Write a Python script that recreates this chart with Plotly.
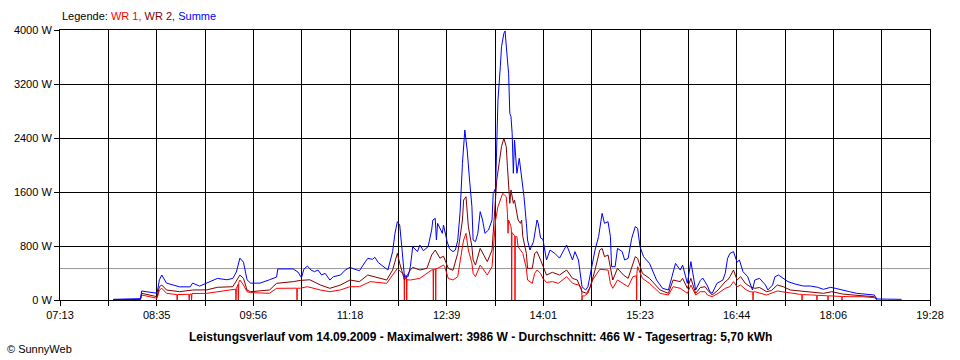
import pandas as pd
import plotly.graph_objects as go

DATE = "2009-09-14"
X_START, X_END = "07:13", "19:28"
X_TICK_LABELS = ["07:13", "08:35", "09:56", "11:18", "12:39", "14:01", "15:23", "16:44", "18:06", "19:28"]
Y_TICKS = [0, 800, 1600, 2400, 3200, 4000]
AVERAGE_W = 466
TITLE = ("Leistungsverlauf vom 14.09.2009 - Maximalwert: 3986 W - "
         "Durchschnitt: 466 W - Tagesertrag: 5,70 kWh")

# --- Summe (blue) ---
SUMME_TIME = [
    "07:58", "08:10", "08:21", "08:22", "08:28", "08:35", "08:37", "08:39", "08:43", "08:48",
    "08:54", "09:03", "09:05", "09:11", "09:17", "09:26", "09:34", "09:39", "09:42", "09:45",
    "09:48", "09:51", "09:54", "10:02", "10:10", "10:16", "10:17", "10:30", "10:34", "10:36",
    "10:37", "10:39", "10:42", "10:45", "10:48", "10:51", "10:54", "10:57", "11:01", "11:04",
    "11:10", "11:14", "11:18", "11:22", "11:26", "11:31", "11:33", "11:37", "11:39", "11:42",
    "11:46", "11:50", "11:54", "11:56", "11:58", "12:00", "12:02", "12:04", "12:07", "12:09",
    "12:11", "12:15", "12:17", "12:20", "12:24", "12:27", "12:28", "12:30", "12:31", "12:32",
    "12:36", "12:37", "12:40", "12:42", "12:45", "12:47", "12:49", "12:51", "12:53", "12:54",
    "12:55", "12:57", "12:58", "12:59", "13:01", "13:02", "13:04", "13:06", "13:08", "13:10",
    "13:12", "13:15", "13:18", "13:19", "13:21", "13:22", "13:23", "13:25", "13:26", "13:28",
    "13:29", "13:31", "13:32", "13:33", "13:34", "13:35", "13:36", "13:37", "13:38", "13:39",
    "13:41", "13:42", "13:43", "13:45", "13:47", "13:48", "13:50", "13:53", "13:56", "13:57",
    "13:59", "14:01", "14:04", "14:07", "14:11", "14:15", "14:21", "14:26", "14:28", "14:31",
    "14:34", "14:37", "14:39", "14:43", "14:45", "14:48", "14:51", "14:53", "14:56", "14:58",
    "14:59", "15:02", "15:04", "15:08", "15:10", "15:13", "15:16", "15:19", "15:21", "15:23",
    "15:26", "15:31", "15:37", "15:42", "15:47", "15:50", "15:53", "15:57", "15:59", "16:03",
    "16:06", "16:10", "16:14", "16:16", "16:20", "16:22", "16:24", "16:26", "16:28", "16:33",
    "16:35", "16:37", "16:39", "16:42", "16:45", "16:47", "16:50", "16:54", "16:58", "17:00",
    "17:04", "17:09", "17:11", "17:15", "17:17", "17:20", "17:24", "17:28", "17:34", "17:41",
    "17:47", "17:53", "17:58", "18:04", "18:08", "18:15", "18:20", "18:26", "18:31", "18:41",
    "18:43", "18:54", "19:04"]
SUMME_W = [
    10, 15, 20, 133, 120, 100, 300, 370, 250, 220,
    195, 195, 250, 206, 250, 320, 300, 320, 415, 620,
    560, 300, 250, 250, 300, 340, 460, 460, 415, 370,
    330, 455, 504, 444, 420, 444, 370, 395, 296, 345,
    370, 444, 484, 455, 434, 568, 617, 602, 632, 553,
    494, 444, 716, 988, 1160, 1111, 740, 345, 345, 494,
    790, 716, 815, 730, 790, 1037, 1185, 1210, 889, 1136,
    988, 1111, 870, 760, 716, 740, 880, 1300, 2025, 2321,
    2519, 2222, 1926, 1778, 1383, 889, 864, 988, 1309, 1185,
    988, 1037, 1185, 1580, 1654, 2420, 2963, 3457, 3753, 3951,
    3986, 3556, 3358, 2765, 2716, 2469, 1877, 2370, 2074, 1877,
    2099, 1975, 1827, 1530, 1136, 889, 740, 864, 1185, 1136,
    920, 900, 593, 740, 691, 620, 815, 593, 716, 593,
    197, 148, 197, 543, 740, 938, 1284, 1136, 1160, 938,
    494, 494, 765, 716, 593, 617, 914, 1086, 1062, 790,
    642, 543, 296, 173, 148, 345, 543, 444, 518, 247,
    568, 148, 290, 326, 210, 123, 99, 173, 247, 296,
    395, 617, 691, 716, 560, 593, 420, 345, 148, 296,
    321, 222, 148, 222, 345, 370, 321, 272, 237, 207,
    207, 188, 158, 188, 173, 138, 123, 99, 89, 74,
    15, 15, 10]

# --- WR 2 (dark red) ---
WR2_TIME = [
    "07:58", "08:21", "08:22", "08:35", "08:37", "08:39", "08:43", "08:54", "09:05", "09:17",
    "09:26", "09:39", "09:45", "09:48", "09:51", "09:54", "10:10", "10:16", "10:30", "10:36",
    "10:44", "10:53", "11:01", "11:10", "11:18", "11:26", "11:33", "11:39", "11:49", "11:54",
    "11:58", "12:00", "12:04", "12:09", "12:11", "12:17", "12:23", "12:27", "12:30", "12:34",
    "12:37", "12:41", "12:45", "12:49", "12:53", "12:54", "12:56", "12:58", "13:01", "13:02",
    "13:04", "13:08", "13:10", "13:14", "13:18", "13:21", "13:22", "13:24", "13:26", "13:28",
    "13:30", "13:31", "13:32", "13:33", "13:34", "13:36", "13:37", "13:39", "13:40", "13:42",
    "13:43", "13:44", "13:47", "13:48", "13:52", "13:54", "13:56", "13:59", "14:01", "14:04",
    "14:09", "14:15", "14:21", "14:26", "14:30", "14:34", "14:38", "14:41", "14:45", "14:49",
    "14:51", "14:53", "14:56", "14:59", "15:00", "15:04", "15:09", "15:13", "15:19", "15:21",
    "15:25", "15:31", "15:40", "15:47", "15:51", "15:57", "15:59", "16:03", "16:06", "16:10",
    "16:14", "16:18", "16:20", "16:24", "16:29", "16:35", "16:37", "16:39", "16:42", "16:45",
    "16:48", "16:52", "16:56", "17:00", "17:04", "17:10", "17:14", "17:19", "17:24", "17:30",
    "17:38", "17:49", "17:58", "18:05", "18:14", "18:23", "18:31", "18:41", "18:43"]
WR2_W = [
    5, 8, 99, 49, 197, 222, 148, 123, 148, 150,
    188, 197, 370, 321, 148, 123, 148, 247, 272, 290,
    300, 222, 173, 222, 296, 272, 370, 345, 296, 444,
    691, 543, 296, 444, 484, 444, 469, 667, 740, 620,
    650, 469, 440, 691, 1185, 1481, 1530, 1086, 790, 593,
    518, 765, 691, 568, 740, 1580, 1778, 2025, 2272, 2395,
    2272, 1975, 1630, 1432, 1630, 1432, 1481, 1284, 1185, 1136,
    1185, 938, 691, 469, 469, 691, 716, 593, 494, 370,
    410, 370, 444, 321, 296, 123, 99, 197, 444, 740,
    765, 642, 667, 345, 296, 469, 370, 321, 642, 617,
    395, 321, 148, 99, 296, 272, 321, 173, 321, 99,
    185, 197, 148, 74, 148, 272, 296, 345, 444, 296,
    345, 247, 197, 173, 185, 123, 140, 222, 197, 148,
    133, 123, 99, 123, 89, 74, 59, 49, 5]

# --- WR 1 (red), including the short drop-outs to 0 W ---
WR1_TIME = [
    "07:58:00", "08:21:00", "08:22:00", "08:35:00", "08:37:00", "08:39:00", "08:43:00", "08:51:40", "08:52:00", "08:52:20",
    "09:01:50", "09:02:10", "09:02:30", "09:03:50", "09:04:10", "09:04:30", "09:17:00", "09:26:00", "09:39:00", "09:41:20",
    "09:41:40", "09:42:00", "09:43:20", "09:43:40", "09:44:00", "09:45:00", "09:48:00", "09:51:00", "09:54:00", "10:02:00",
    "10:10:00", "10:16:00", "10:30:00", "10:33:00", "10:33:15", "10:33:30", "10:36:00", "10:42:00", "10:53:00", "11:01:00",
    "11:10:00", "11:18:00", "11:26:00", "11:35:00", "11:49:00", "11:58:00", "12:02:00", "12:03:40", "12:03:55", "12:04:10",
    "12:05:40", "12:05:55", "12:06:10", "12:09:00", "12:17:00", "12:27:00", "12:28:10", "12:28:25", "12:28:40", "12:30:10",
    "12:30:25", "12:30:40", "12:32:00", "12:37:00", "12:38:00", "12:41:00", "12:45:00", "12:49:00", "12:53:00", "12:54:00",
    "12:56:00", "12:58:00", "13:01:00", "13:02:00", "13:04:00", "13:08:00", "13:10:00", "13:14:00", "13:18:00", "13:21:00",
    "13:23:00", "13:26:00", "13:27:00", "13:30:00", "13:31:00", "13:31:30", "13:32:00", "13:34:00", "13:34:20", "13:34:35",
    "13:34:50", "13:37:10", "13:37:25", "13:37:40", "13:39:00", "13:40:00", "13:42:00", "13:44:00", "13:47:00", "13:48:00",
    "13:52:00", "13:54:00", "13:56:00", "13:59:00", "14:01:00", "14:04:00", "14:09:00", "14:14:00", "14:21:00", "14:26:00",
    "14:31:00", "14:33:40", "14:34:00", "14:34:20", "14:36:00", "14:39:00", "14:43:00", "14:49:00", "14:56:00", "14:58:00",
    "15:00:00", "15:04:00", "15:13:00", "15:17:00", "15:19:55", "15:20:10", "15:20:25", "15:21:00", "15:25:00", "15:31:00",
    "15:40:00", "15:47:00", "15:51:00", "15:57:00", "16:03:00", "16:06:00", "16:10:00", "16:14:00", "16:18:00", "16:20:00",
    "16:24:00", "16:29:00", "16:35:00", "16:39:00", "16:42:00", "16:45:00", "16:48:00", "16:52:00", "16:56:00", "16:58:15",
    "16:58:30", "16:58:45", "17:00:00", "17:10:00", "17:19:00", "17:30:00", "17:38:00", "17:39:40", "17:39:55", "17:40:10",
    "17:49:00", "17:52:15", "17:52:30", "17:52:45", "18:01:35", "18:01:50", "18:02:05", "18:06:00", "18:13:25", "18:13:40",
    "18:13:55", "18:20:00", "18:31:00", "18:41:00", "18:43:00"]
WR1_W = [
    5, 8, 74, 25, 148, 173, 99, 80, 0, 80,
    85, 0, 85, 90, 0, 95, 99, 123, 148, 160,
    0, 170, 230, 0, 260, 296, 222, 123, 110, 99,
    99, 173, 173, 175, 0, 175, 175, 197, 148, 123,
    150, 197, 197, 272, 247, 469, 395, 380, 0, 370,
    360, 0, 300, 296, 321, 444, 450, 0, 455, 460,
    0, 465, 469, 518, 494, 321, 296, 345, 790, 889,
    988, 740, 543, 395, 345, 518, 469, 370, 494, 1185,
    1383, 1530, 1580, 1530, 1284, 988, 1185, 1086, 1050, 0,
    1000, 950, 0, 938, 938, 790, 740, 691, 469, 296,
    247, 395, 444, 395, 320, 260, 272, 247, 345, 247,
    222, 180, 0, 60, 60, 99, 296, 455, 444, 247,
    173, 296, 197, 345, 360, 0, 400, 494, 321, 247,
    99, 74, 197, 173, 99, 222, 74, 123, 123, 74,
    49, 99, 173, 197, 272, 197, 222, 158, 123, 120,
    0, 120, 123, 74, 133, 99, 84, 84, 0, 80,
    74, 70, 0, 70, 62, 0, 62, 59, 52, 0,
    52, 49, 49, 34, 5]

COLORS = {"WR 1": "#ff0000", "WR 2": "#800000", "Summe": "#0000ff"}
FONT = "Liberation Sans"


def stamp(times):
    return [f"{DATE} {t}" for t in times]


fig = go.Figure()
for name, times, vals in [("WR 1", WR1_TIME, WR1_W),
                          ("WR 2", WR2_TIME, WR2_W),
                          ("Summe", SUMME_TIME, SUMME_W)]:
    fig.add_trace(go.Scatter(x=stamp(times), y=vals, mode="lines", name=name,
                             line=dict(color=COLORS[name], width=1)))

start = pd.Timestamp(f"{DATE} {X_START}")
end = pd.Timestamp(f"{DATE} {X_END}")
n_int = 2 * (len(X_TICK_LABELS) - 1)
step = (end - start) / n_int
tickvals = [start + k * step for k in range(n_int + 1)]
ticktext = [X_TICK_LABELS[k // 2] if k % 2 == 0 else "" for k in range(n_int + 1)]

axis_common = dict(showgrid=True, gridcolor="#000000", gridwidth=1,
                   showline=True, linecolor="#000000", linewidth=1, mirror=True,
                   ticks="outside", ticklen=5, tickcolor="#000000", tickwidth=1,
                   zeroline=False, tickfont=dict(family=FONT, size=11, color="#000000"))

fig.update_layout(
    width=960, height=360,
    margin=dict(l=60, r=30, t=30, b=60),
    paper_bgcolor="#ffffff", plot_bgcolor="#ffffff",
    showlegend=False,
    font=dict(family=FONT, size=11, color="#000000"),
    xaxis=dict(type="date", range=[start, end], tickmode="array",
               tickvals=tickvals, ticktext=ticktext, **axis_common),
    yaxis=dict(range=[Y_TICKS[0], Y_TICKS[-1]], tickmode="array", tickvals=Y_TICKS,
               ticktext=[f"{v} W" for v in Y_TICKS], **axis_common),
)

fig.add_shape(type="line", xref="paper", x0=0, x1=1, yref="y", y0=AVERAGE_W, y1=AVERAGE_W,
              line=dict(color="#999999", width=1), layer="between")

legend_text = ('Legende: '
               f'<span style="color:{COLORS["WR 1"]}">WR 1,</span> '
               f'<span style="color:{COLORS["WR 2"]}">WR 2,</span> '
               f'<span style="color:{COLORS["Summe"]}">Summe</span>')
fig.add_annotation(text=legend_text, xref="paper", yref="paper", x=0, y=1.052,
                   xanchor="left", yanchor="middle", showarrow=False,
                   font=dict(family=FONT, size=11, color="#000000"))
fig.add_annotation(text=f"<b>{TITLE}</b>", xref="paper", yref="paper", x=0.4828, y=-0.137,
                   xanchor="center", yanchor="middle", showarrow=False,
                   font=dict(family=FONT, size=12, color="#000000"))
fig.add_annotation(text="© SunnyWeb", xref="paper", yref="paper", x=-0.0632, y=-0.181,
                   xanchor="left", yanchor="middle", showarrow=False,
                   font=dict(family=FONT, size=11, color="#000000"))

# remove the browser's default 8px page margin so the figure sits at the window origin
fig.write_html("out.html",
               config={"displayModeBar": False},
               post_script="document.body.style.margin='0';document.body.style.overflow='hidden';")
